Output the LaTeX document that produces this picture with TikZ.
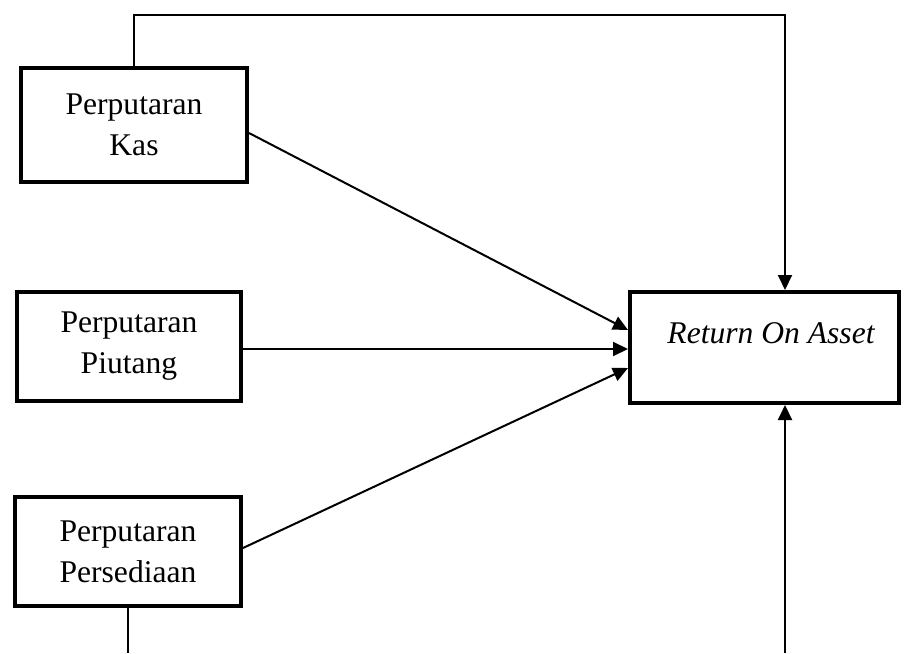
\documentclass[tikz,border=0pt]{standalone}
\usepackage{fontspec}
\setmainfont{Liberation Serif}
\usetikzlibrary{arrows.meta}

\begin{document}
\begin{tikzpicture}[x=0.5pt,y=-0.5pt,
    var/.style={draw,line width=2pt,inner sep=0pt,align=center,font=\fontsize{15.8}{20.5}\selectfont},
    conn/.style={line width=1pt},
    link/.style={conn,-{Triangle[length=7.5pt,width=7pt]}}]
            \useasboundingbox (0,0) rectangle (904,653);

            \node[var,minimum width=113pt,minimum height=57pt] (kas) at (134,125) {Perputaran\\Kas};
            \node[var,minimum width=112pt,minimum height=54.5pt] (piutang) at (129,346.5) {Perputaran\\Piutang};
            \node[var,minimum width=113pt,minimum height=54.5pt] (sedia) at (128,551.5) {Perputaran\\Persediaan};
            \node[var,minimum width=134.5pt,minimum height=55.5pt] (roa) at (764.5,347.5) {};
            \node[font=\fontsize{15.8}{20.5}\selectfont\itshape,inner sep=0pt] (roatxt) at (771,333) {Return On Asset};

            \coordinate (tr) at (785,15);   % loop over the top
            \coordinate (bl) at (133,653);  % cut off at the bottom
            \coordinate (br) at (785,653);

            \draw[link] (kas.north) -- (kas.north |- tr) -- (tr) -- (tr |- roa.north);
            \draw[conn] (sedia.south) -- (sedia.south |- bl);
            \draw[link] (br) -- (br |- roa.south);

            \draw[link] ([yshift=-4pt]kas.east) -- ([yshift=8.75pt]roa.west);
            \draw[link] ([yshift=-1.25pt]piutang.east) -- ([yshift=-0.75pt]roa.west);
            \draw[link] ([yshift=1.75pt]sedia.east) -- ([yshift=-10.25pt]roa.west);
        \end{tikzpicture}
\end{document}
